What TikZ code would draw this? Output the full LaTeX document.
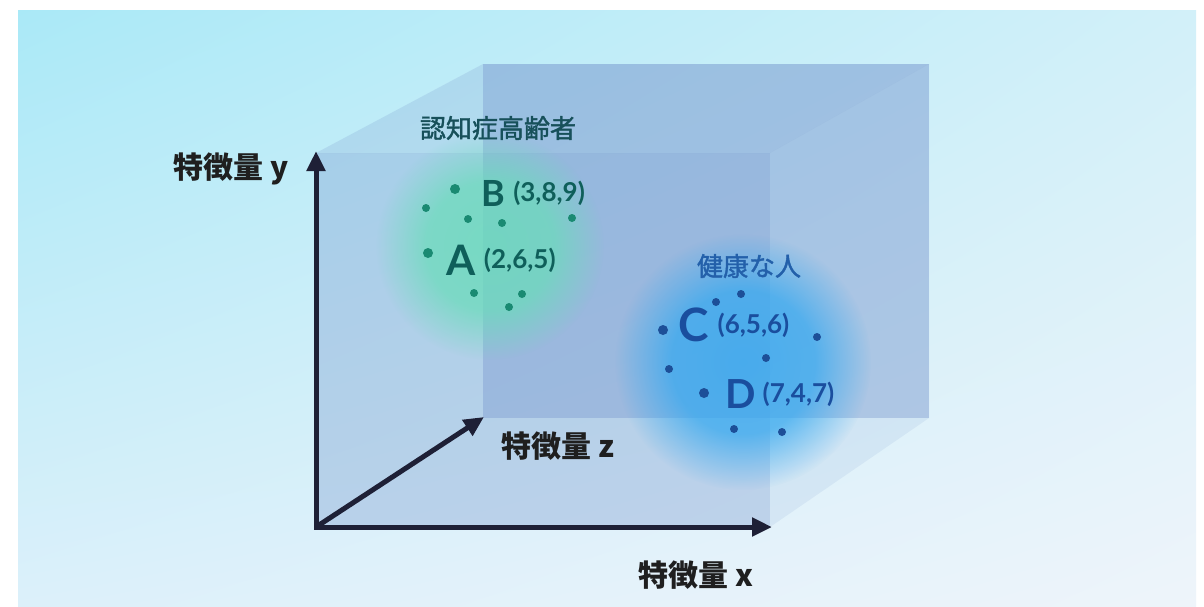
\documentclass[tikz,border=0pt]{standalone}
\usepackage{fontspec}
\usetikzlibrary{positioning,arrows.meta,fadings,shadings}
\newfontfamily\jpfont{Noto Sans CJK JP}
\newfontfamily\jpmid{Noto Sans CJK JP}[FakeBold=1.5]
\newfontfamily\latofont{Lato}
\definecolor{axisnavy}{HTML}{1E2036}
\definecolor{cubeblue}{HTML}{7190CA}
\definecolor{glowgreen}{HTML}{6ADCBA}
\definecolor{glowblue}{HTML}{33A8F0}
\definecolor{teallabel}{HTML}{17505A}
\definecolor{tealpoint}{HTML}{0F5F5A}
\definecolor{tealdot}{HTML}{1A8A72}
\definecolor{bluelabel}{HTML}{2360AA}
\definecolor{bluepoint}{HTML}{1A4E9E}
\definecolor{bluedot}{HTML}{1D4F98}
\definecolor{bgul}{HTML}{AAE9F7}
\definecolor{bgur}{HTML}{D2F0F9}
\definecolor{bgll}{HTML}{DCF0FA}
\definecolor{bglr}{HTML}{EEF4FA}
\pgfdeclareradialshading{glowshade}{\pgfpointorigin}{color(0bp)=(pgftransparent!0); color(14bp)=(pgftransparent!10); color(25bp)=(pgftransparent!100); color(50bp)=(pgftransparent!100)}
\pgfdeclarefading{glowfade}{\pgfuseshading{glowshade}}
\begin{document}
\begin{tikzpicture}[
                        x=1pt, y=-1pt,
                        >={Triangle[length=20pt,width=18pt]},
                        axis/.style={line width=5pt, draw=axisnavy},
                        face/.style={fill=cubeblue, draw=none},
                        axislabel/.style={font=\jpfont\bfseries\fontsize{30}{30}\selectfont, text=black!88, inner sep=0pt},
                        grouplabel/.style={font=\jpmid\fontsize{26}{26}\selectfont, inner sep=0pt},
                        pointname/.style={font=\latofont\bfseries\fontsize{#1}{#1}\selectfont, inner sep=0pt},
                        pointcoord/.style={font=\latofont\bfseries\fontsize{26}{26}\selectfont, inner sep=0pt, right=8pt of #1}
                    ]
                    \useasboundingbox (0,0) rectangle (1204,606);
                    % Background
                    \fill[white] (0,0) rectangle (1204,606);
                    \shade[upper left=bgul, upper right=bgur, lower left=bgll, lower right=bglr]
                        (18,10) rectangle (1196,606);

                    % Cube corners
                    \coordinate (F1) at (316,153);
                    \coordinate (F2) at (770,153);
                    \coordinate (F3) at (770,527);
                    \coordinate (F4) at (316,527);
                    \coordinate (K1) at (483,64);
                    \coordinate (K2) at (929,64);
                    \coordinate (K3) at (929,418);
                    \coordinate (K4) at (483,418);

                    % Faces
                    \fill[face, fill opacity=0.36] (K1) -- (K2) -- (K3) -- (K4) -- cycle;
                    \fill[face, fill opacity=0.2] (F1) -- (K1) -- (K2) -- (F2) -- cycle;
                    \fill[face, fill opacity=0.12] (F2) -- (K2) -- (K3) -- (F3) -- cycle;
                    \fill[face, fill opacity=0.32] (F1) -- (F2) -- (F3) -- (F4) -- cycle;

                    % Glows
                    \fill[glowgreen, path fading=glowfade, fill opacity=0.8] (490,246) circle (114);
                    \fill[glowblue, path fading=glowfade, fill opacity=0.8] (743,362) circle (128);

                    % Axes
                    \coordinate (O) at (316,527);
                    \coordinate (Xend) at (772,527);
                    \coordinate (Yend) at (316,151);
                    \coordinate (Zend) at (484,417);
                    \draw[axis, <->] (Yend) -- (O) -- (Xend);
                    \draw[axis, ->] (O) -- (Zend);

                    \node[axislabel] (ylab) at (231,169) {特徴量 y};
                    \node[axislabel] (zlab) at (558,446) {特徴量 z};
                    \node[axislabel] (xlab) at (696,575) {特徴量 x};

                    % Groups
                    \node[grouplabel, text=teallabel] (sick) at (498,128) {認知症高齢者};
                    \node[grouplabel, text=bluelabel] (healthy) at (749,266) {健康な人};

                    \foreach \px/\py/\r in {455/189/5, 426/208/4, 468/219/4, 502/223/4, 572/218/4,
                                            428/253/5, 474/293/4, 522/294/4, 509/307/4}
                        \fill[tealdot] (\px,\py) circle (\r);
                    \foreach \px/\py/\r in {741/294/4, 716/302/4, 663/330/5, 817/337/4, 766/358/4,
                                            669/369/4, 704/393/5, 734/429/4, 782/432/4}
                        \fill[bluedot] (\px,\py) circle (\r);

                    % Points
                    \node[pointname=36, text=tealpoint] (B) at (493,193) {B};
                    \node[pointcoord=B, text=tealpoint] (Bc) {(3,8,9)};
                    \node[pointname=42, text=tealpoint] (A) at (461,260) {A};
                    \node[pointcoord=A, text=tealpoint] (Ac) {(2,6,5)};
                    \node[pointname=46, text=bluepoint] (C) at (694,325) {C};
                    \node[pointcoord=C, text=bluepoint] (Cc) {(6,5,6)};
                    \node[pointname=40, text=bluepoint] (D) at (741,394) {D};
                    \node[pointcoord=D, text=bluepoint, right=6pt of D] (Dc) {(7,4,7)};
                \end{tikzpicture}
\end{document}
